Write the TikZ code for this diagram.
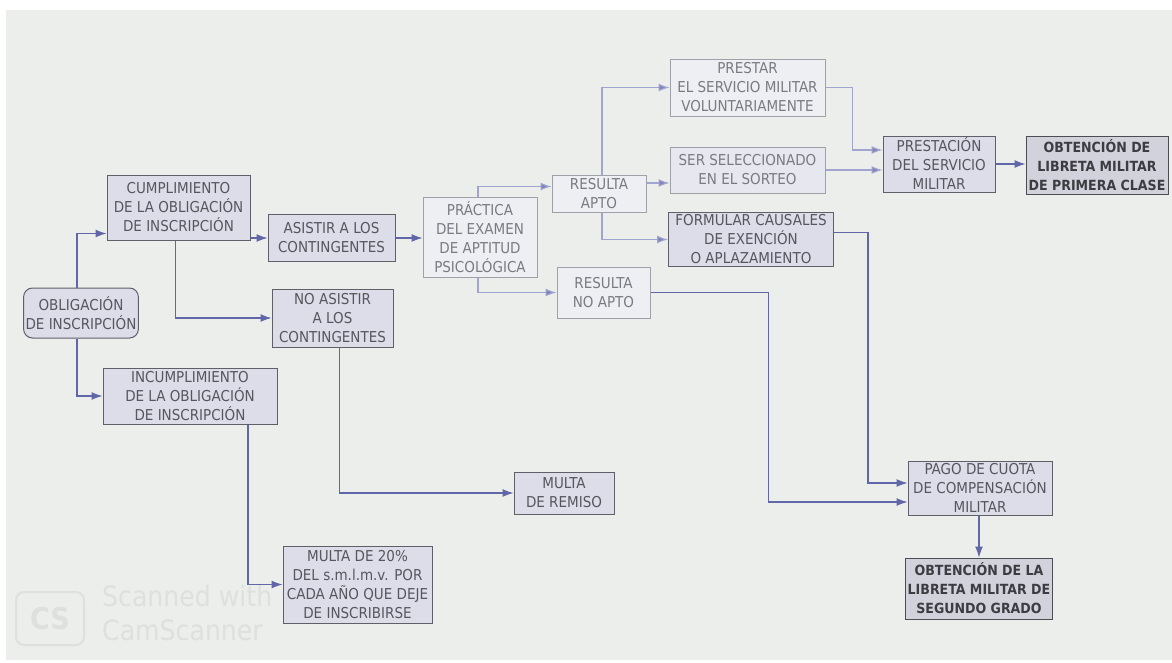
\documentclass[tikz,border=0pt]{standalone}
\usepackage{fontspec}
\setmainfont{DejaVu Sans Condensed}
\usepackage{xcolor}
\definecolor{fondo}{RGB}{236,238,235}
\definecolor{lila}{RGB}{221,221,233}
\definecolor{lilaclaro}{RGB}{238,239,243}
\definecolor{borde}{RGB}{95,95,104}
\definecolor{bordeclaro}{RGB}{160,160,168}
\definecolor{texto}{RGB}{86,86,94}
\definecolor{textoclaro}{RGB}{122,122,130}
\definecolor{flecha}{RGB}{96,102,168}
\definecolor{flechaclara}{RGB}{160,164,206}
\definecolor{marca}{RGB}{222,224,221}
\usepackage{tikz}
\usetikzlibrary{calc,positioning,arrows.meta}

\begin{document}
\begin{tikzpicture}[x=1pt,y=-1pt,
    every node/.style={font=\fontsize{15}{19}\selectfont,align=center,inner sep=2pt},
    caja/.style={draw=borde,fill=lila,text=texto,line width=1pt},
    cajaclara/.style={draw=bordeclaro,fill=lilaclaro,text=textoclaro,line width=1pt},
    cajafinal/.style={draw=borde!80!black,fill=lila!95!black,text=texto!70!black,line width=1pt,font=\fontsize{14}{19}\selectfont\bfseries},
    conexion/.style={draw=flecha,line width=1.1pt,-{Latex[length=11pt,width=8pt]}},
    conexionclara/.style={draw=flechaclara,line width=1.1pt,-{Latex[length=11pt,width=8pt,fill=flecha!80]}}]
    % Background
    \useasboundingbox (0,0) rectangle (1172,662);
    \fill[white] (0,0) rectangle (1172,662);
    \fill[fondo] (6,10) rectangle (1172,660);
    % Watermark
    \draw[marca,line width=2pt,rounded corners=8pt] (16,592) rectangle (84,645);
    \node[text=marca,font=\fontsize{30}{30}\selectfont\bfseries] (logo) at (50,619) {CS};
    \node[text=marca,font=\fontsize{28}{34}\selectfont,anchor=north west,align=left] (escaneo) at (100,583) {Scanned with\\CamScanner};
    % Left column
    \node[caja,rounded corners=9pt,minimum width=113,minimum height=50] (obligacion) at (81,313) {OBLIGACIÓN\\DE INSCRIPCIÓN};
    \node[caja,minimum width=143,minimum height=65] (cumplimiento) at (178.5,207.5) {CUMPLIMIENTO\\DE LA OBLIGACIÓN\\DE INSCRIPCIÓN};
    \node[caja,minimum width=174,minimum height=56] (incumplimiento) at (190,396) {INCUMPLIMIENTO\\DE LA OBLIGACIÓN\\DE INSCRIPCIÓN};
    % Middle column
    \node[caja,minimum width=127,minimum height=47] (asistir) at (331.5,238) {ASISTIR A LOS\\CONTINGENTES};
    \node[caja,minimum width=121,minimum height=58] (noasistir) at (332.5,318) {NO ASISTIR\\A LOS\\CONTINGENTES};
    \node[cajaclara,minimum width=114,minimum height=80] (practica) at (480,237) {PRÁCTICA\\DEL EXAMEN\\DE APTITUD\\PSICOLÓGICA};
    \node[caja,minimum width=149,minimum height=77] (multa) at (357.5,584.5) {MULTA DE 20\%\\DEL s.m.l.m.v. POR\\CADA AÑO QUE DEJE\\DE INSCRIBIRSE};
    \node[caja,minimum width=100,minimum height=42] (remiso) at (564,493) {MULTA\\DE REMISO};
    % Results
    \node[cajaclara,minimum width=94,minimum height=37] (apto) at (599,193.5) {RESULTA\\APTO};
    \node[cajaclara,minimum width=93,minimum height=51] (noapto) at (603.5,292.5) {RESULTA\\NO APTO};
    \node[cajaclara,minimum width=155,minimum height=57] (prestar) at (747.5,87.5) {PRESTAR\\EL SERVICIO MILITAR\\VOLUNTARIAMENTE};
    \node[cajaclara,fill=lila!70!white,minimum width=155,minimum height=46] (sorteo) at (747.5,170) {SER SELECCIONADO\\EN EL SORTEO};
    \node[caja,minimum width=165,minimum height=51] (formular) at (751,239.5) {FORMULAR CAUSALES\\DE EXENCIÓN\\O APLAZAMIENTO};
    % Right column
    \node[caja,minimum width=112,minimum height=56] (prestacion) at (939,164) {PRESTACIÓN\\DEL SERVICIO\\MILITAR};
    \node[cajafinal,minimum width=142,minimum height=58] (primera) at (1097,165) {OBTENCIÓN DE\\LIBRETA MILITAR\\DE PRIMERA CLASE};
    \node[caja,minimum width=144,minimum height=54] (pago) at (980,488) {PAGO DE CUOTA\\DE COMPENSACIÓN\\MILITAR};
    \node[cajafinal,minimum width=146,minimum height=61] (segundo) at (979,588.5) {OBTENCIÓN DE LA\\LIBRETA MILITAR DE\\SEGUNDO GRADO};
    % Arrows
    \draw[conexion] ([xshift=-4pt]obligacion.north) |- ([yshift=-26pt]cumplimiento.west);
    \draw[conexion] ([xshift=-4pt]obligacion.south) |- (incumplimiento.west);
    \draw[conexion] (asistir.west -| cumplimiento.east) -- (asistir.west);
    \draw[conexion] ([xshift=-3pt]cumplimiento.south) |- (noasistir.west);
    \draw[conexion] (asistir.east) -- (asistir.east -| practica.west);
    \draw[conexion] ([xshift=7pt]noasistir.south) |- (remiso.west);
    \draw[conexion] ([xshift=58pt]incumplimiento.south) |- (multa.west);
    \draw[conexionclara] ([xshift=-2pt]practica.north) |- ([yshift=7pt]apto.west);
    \draw[conexionclara] ([xshift=-2pt]practica.south) |- (noapto.west);
    \draw[conexionclara] ([xshift=3pt]apto.north) |- (prestar.west);
    \coordinate (entrasorteo) at ([yshift=-13pt]sorteo.west);
    \draw[conexionclara] (apto.east |- entrasorteo) -- (entrasorteo);
    \draw[conexionclara] ([xshift=3pt]apto.south) |- (formular.west);
    \draw[conexionclara] (prestar.east) -- ++(27,0) |- ([yshift=14pt]prestacion.west);
    \draw[conexionclara] (sorteo.east) -- (sorteo.east -| prestacion.west);
    \draw[conexion] (prestacion.east) -- (prestacion.east -| primera.west);
    \draw[conexion] ([yshift=7pt]formular.east) -- ++(34,0) |- ([yshift=5pt]pago.west);
    \draw[conexion] (noapto.east) -- ++(118,0) |- ([yshift=-14pt]pago.west);
    \draw[conexion] ([xshift=-1pt]pago.south) -- ([xshift=-1pt]pago.south |- segundo.north);
\end{tikzpicture}
\end{document}
